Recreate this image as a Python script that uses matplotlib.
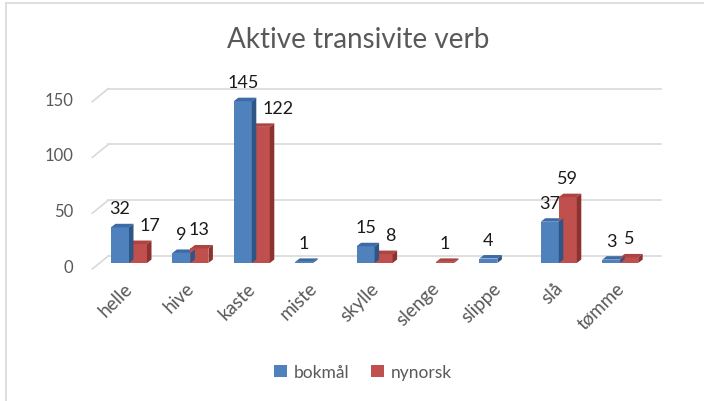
import matplotlib
matplotlib.use("Agg")
import matplotlib.pyplot as plt
from matplotlib.patches import Polygon, Patch
from matplotlib.lines import Line2D

plt.rcParams['font.family'] = ['Lato', 'DejaVu Sans']

# data
categories = ['helle', 'hive', 'kaste', 'miste', 'skylle', 'slenge', 'slippe', 'slå', 'tømme']
bokmal = [32, 9, 145, 1, 15, 0, 4, 37, 3]
nynorsk = [17, 13, 122, 0, 8, 1, 0, 59, 5]
series_names = ['bokmål', 'nynorsk']
yticks = [0, 50, 100, 150]

front_cols = ['#4F81BD', '#C0504D']
top_cols = ['#3C6BA6', '#AD4441']
side_cols = ['#2F5585', '#8C3230']
grey = '#595959'

W, H = 704, 402
fig = plt.figure(figsize=(W / 100, H / 100), dpi=100)
ax = fig.add_axes([98.3 / W, 138 / H, 552.6 / W, 167.4 / H])
ax.set_xlim(-0.5, len(categories) - 0.5)
ax.set_ylim(0, 150)
ax.axis('off')

# pixels per data unit, used to turn depth offsets (pixels) into data units
sx = (552.6) / len(categories)
sy = 167.4 / 150.0


def px(dx, dy):
    return dx / sx, dy / sy


# floor / gridlines (back wall lines + left diagonal)
bx, by = px(10, 7)
fx, fy = px(-6, -6)
for v in yticks:
    ax.add_line(Line2D([-0.5 + bx, len(categories) - 0.5 + bx], [v + by, v + by],
                       color='#D9D9D9', lw=1.2, clip_on=False, zorder=1))
    ax.add_line(Line2D([-0.5 + fx, -0.5 + bx], [v + fy, v + by],
                       color='#D9D9D9', lw=1.2, clip_on=False, zorder=1))
    ax.text(-0.5 + px(-25, 0)[0], v + px(0, -4)[1], str(v), ha='right', va='center',
            fontsize=12, color=grey)

# bars with 3d look
bw = 18 / sx
ddx, ddy = px(4.5, 3.5)
for s, vals in enumerate([bokmal, nynorsk]):
    for i, v in enumerate(vals):
        if v == 0:
            continue
        x0 = i - bw + s * bw
        x1 = x0 + bw
        ax.add_patch(Polygon([(x0, 0), (x1, 0), (x1, v), (x0, v)], closed=True,
                             fc=front_cols[s], ec='none', zorder=3))
        ax.add_patch(Polygon([(x0, v), (x1, v), (x1 + ddx, v + ddy), (x0 + ddx, v + ddy)],
                             closed=True, fc=top_cols[s], ec='none', zorder=3))
        ax.add_patch(Polygon([(x1, 0), (x1 + ddx, ddy), (x1 + ddx, v + ddy), (x1, v)],
                             closed=True, fc=side_cols[s], ec='none', zorder=3 - s * 0.5 + 0.5))

# data labels
lab_dy = px(0, 14)[1]
for i in range(len(categories)):
    b, n = bokmal[i], nynorsk[i]
    if b:
        ax.text(i - bw / 2, b + lab_dy, str(b), ha='center', va='baseline',
                fontsize=13, color='#1a1a1a', zorder=5)
    if n:
        xc = i + bw / 2
        if b > n:
            # keep label clear of the taller blue bar
            left = i + ddx + px(6, 0)[0]
            ax.text(left, n + lab_dy, str(n), ha='left', va='baseline',
                    fontsize=13, color='#1a1a1a', zorder=5)
        else:
            ax.text(xc, n + lab_dy, str(n), ha='center', va='baseline',
                    fontsize=13, color='#1a1a1a', zorder=5)

# category labels
cdx, cdy = px(-5, -16)
for i, c in enumerate(categories):
    ax.text(i + cdx, cdy, c, ha='right', va='top', rotation=45, rotation_mode='anchor',
            fontsize=13.5, color=grey)

# title
fig.text(358 / W, 1 - 40 / H, 'Aktive transivite verb', ha='center', va='center',
         fontsize=20, color=grey)

# legend
handles = [Patch(fc=front_cols[k], ec='none') for k in range(2)]
fig.legend(handles, series_names, loc='center', bbox_to_anchor=(363 / W, 1 - 373 / H),
           ncol=2, frameon=False, fontsize=12.5, labelcolor=grey,
           handlelength=0.75, handleheight=0.75, handletextpad=0.4, columnspacing=1.2)

# chart border (top and left edges visible)
fig.add_artist(Line2D([6 / W, 6 / W], [0, 1 - 4 / H], color='#D9D9D9', lw=1.2))
fig.add_artist(Line2D([6 / W, 1], [1 - 4 / H, 1 - 4 / H], color='#D9D9D9', lw=1.2))

fig.savefig('out.png', dpi=100)
